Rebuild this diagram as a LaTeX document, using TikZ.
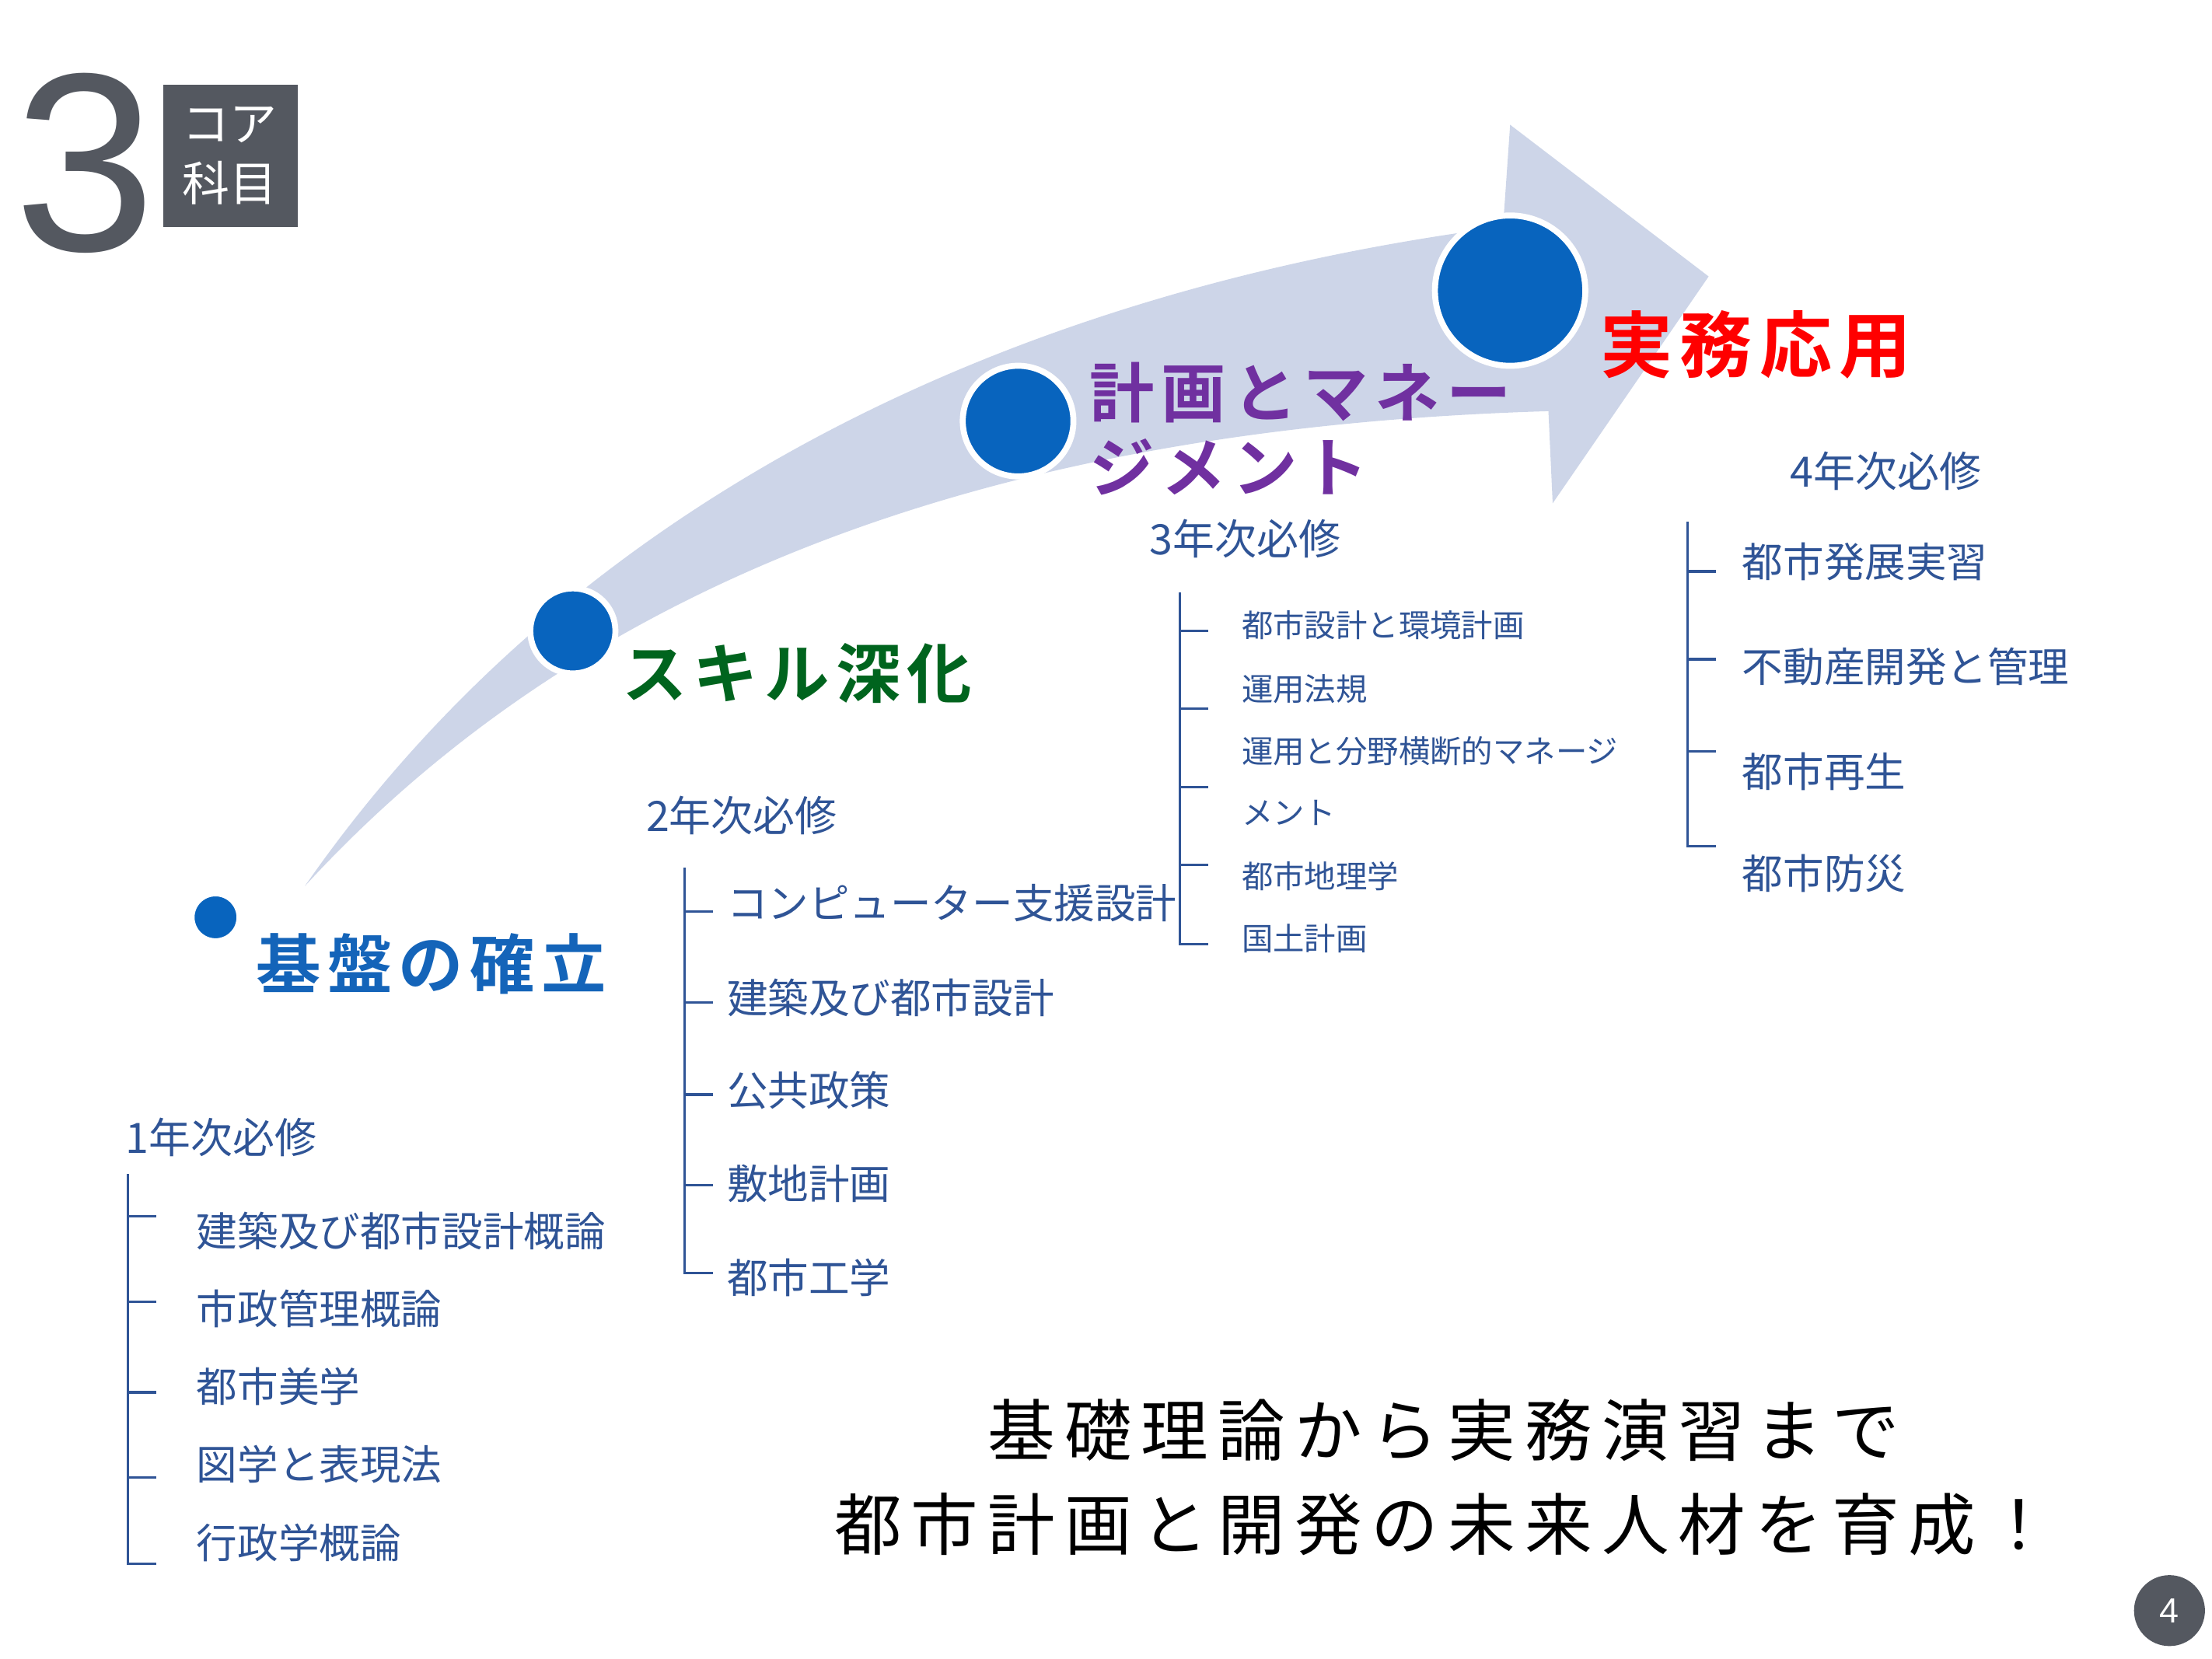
\documentclass[tikz,border=0pt]{standalone}
\usepackage{fontspec}
\setmainfont{Noto Sans CJK JP}
\newfontfamily\jp{Noto Sans CJK JP}
\newfontfamily\jpb[LetterSpace=10]{Noto Sans CJK JP Bold}
\newfontfamily\jpl[LetterSpace=14]{Noto Sans CJK JP}
\definecolor{arrowc}{RGB}{205,213,232}
\definecolor{listc}{RGB}{47,84,150}
\definecolor{dotc}{RGB}{8,100,190}
\definecolor{darkg}{RGB}{84,88,96}
\definecolor{t1}{RGB}{20,100,185}
\definecolor{t2}{RGB}{0,100,30}
\definecolor{t3}{RGB}{112,48,160}
\tikzset{
 item/.style={anchor=west,text=listc,font=\jp\fontsize{8.2}{9}\selectfont,inner sep=0},
 smallitem/.style={anchor=west,text=listc,font=\jp\fontsize{6.3}{7}\selectfont,inner sep=0},
 head/.style={anchor=west,text=listc,font=\jp\fontsize{8.4}{9}\selectfont,inner sep=0},
 brk/.style={draw=listc,line width=0.5pt},
 dot/.style={circle,fill=dotc,draw=white,line width=1.2pt,inner sep=0},
 ttl/.style={anchor=west,font=\jpb\fontsize{13}{15}\selectfont,inner sep=0},
}
\begin{document}
\begin{tikzpicture}[x=0.01cm,y=-0.01cm]
\useasboundingbox (0,0) rectangle (1560,1170);
% arrow
\fill[arrowc] (215,625) .. controls (420,330) and (750,200) .. (1060,160)
  -- (1065,88) -- (1205,195) -- (1095,355) -- (1092,290)
  .. controls (760,300) and (440,380) .. (215,625) -- cycle;
% dots
\node[dot,minimum size=32pt*0.3] (d1) at (152,647) {};
\node[dot,minimum size=60*0.2845pt] (d2) at (404,445) {};
\node[dot,minimum size=78*0.2845pt] (d3) at (718,297) {};
\node[dot,minimum size=106*0.2845pt] (d4) at (1065,205) {};
% titles
\node[ttl,text=t1] (T1) at (180,680) {基盤の確立};
\node[ttl,text=t2] (T2) at (438,475) {スキル深化};
\node[ttl,text=t3,align=left,anchor=north west] (T3) at (768,255) {計画とマネー\\ジメント};
\node[ttl,text=red,font=\jpb\fontsize{14.5}{17}\selectfont] (T4) at (1128,243) {実務応用};
% top-left
\node[text=darkg,font=\fontspec{Liberation Sans}\fontsize{51}{51}\selectfont,inner sep=0] (three) at (60,115) {3};
\fill[darkg] (115,60) rectangle (210,160);
\node[text=white,align=center,font=\jp\fontsize{9.5}{12}\selectfont,inner sep=0] (core) at (162,110) {コア\\科目};
% year 1
\node[head] (h1) at (88,802) {1年次必修};
\draw[brk] (90,828) -- (90,1103) -- (110,1103);
\foreach \y in {858,918,982,1042} \draw[brk] (90,\y) -- (110,\y);
\node[item] (a1) at (138,868) {建築及び都市設計概論};
\node[item] (a2) at (138,923) {市政管理概論};
\node[item] (a3) at (138,978) {都市美学};
\node[item] (a4) at (138,1033) {図学と表現法};
\node[item] (a5) at (138,1088) {行政学概論};
% year 2
\node[head] (h2) at (455,575) {2年次必修};
\draw[brk] (483,612) -- (483,898) -- (503,898);
\foreach \y in {643,707,772,836} \draw[brk] (483,\y) -- (503,\y);
\node[item] (b1) at (512,637) {コンピューター支援設計};
\node[item] (b2) at (512,704) {建築及び都市設計};
\node[item] (b3) at (512,769) {公共政策};
\node[item] (b4) at (512,835) {敷地計画};
\node[item] (b5) at (512,901) {都市工学};
% year 3
\node[head] (h3) at (810,380) {3年次必修};
\draw[brk] (832,418) -- (832,666) -- (852,666);
\foreach \y in {445,500,555,610} \draw[brk] (832,\y) -- (852,\y);
\node[smallitem] (c1) at (875,441) {都市設計と環境計画};
\node[smallitem] (c2) at (875,486) {運用法規};
\node[smallitem] (c3) at (875,530) {運用と分野横断的マネージ};
\node[smallitem] (c4) at (875,573) {メント};
\node[smallitem] (c5) at (875,618) {都市地理学};
\node[smallitem] (c6) at (875,662) {国土計画};
% year 4
\node[head] (h4) at (1262,332) {4年次必修};
\draw[brk] (1190,368) -- (1190,597) -- (1210,597);
\foreach \y in {403,465,530} \draw[brk] (1190,\y) -- (1210,\y);
\node[item] (e1) at (1228,396) {都市発展実習};
\node[item] (e2) at (1228,470) {不動産開発と管理};
\node[item] (e3) at (1228,544) {都市再生};
\node[item] (e4) at (1228,616) {都市防災};
% bottom
\node[align=center,font=\jpl\fontsize{13.5}{19}\selectfont,inner sep=0] (msg) at (1018,1042) {基礎理論から実務演習まで\\都市計画と開発の未来人材を育成！};
\node[circle,fill=darkg,minimum size=50*0.2845pt,inner sep=0,text=white,font=\fontspec{Liberation Sans}\fontsize{7}{8}\selectfont] (pg) at (1530,1136) {4};
\end{tikzpicture}
\end{document}
